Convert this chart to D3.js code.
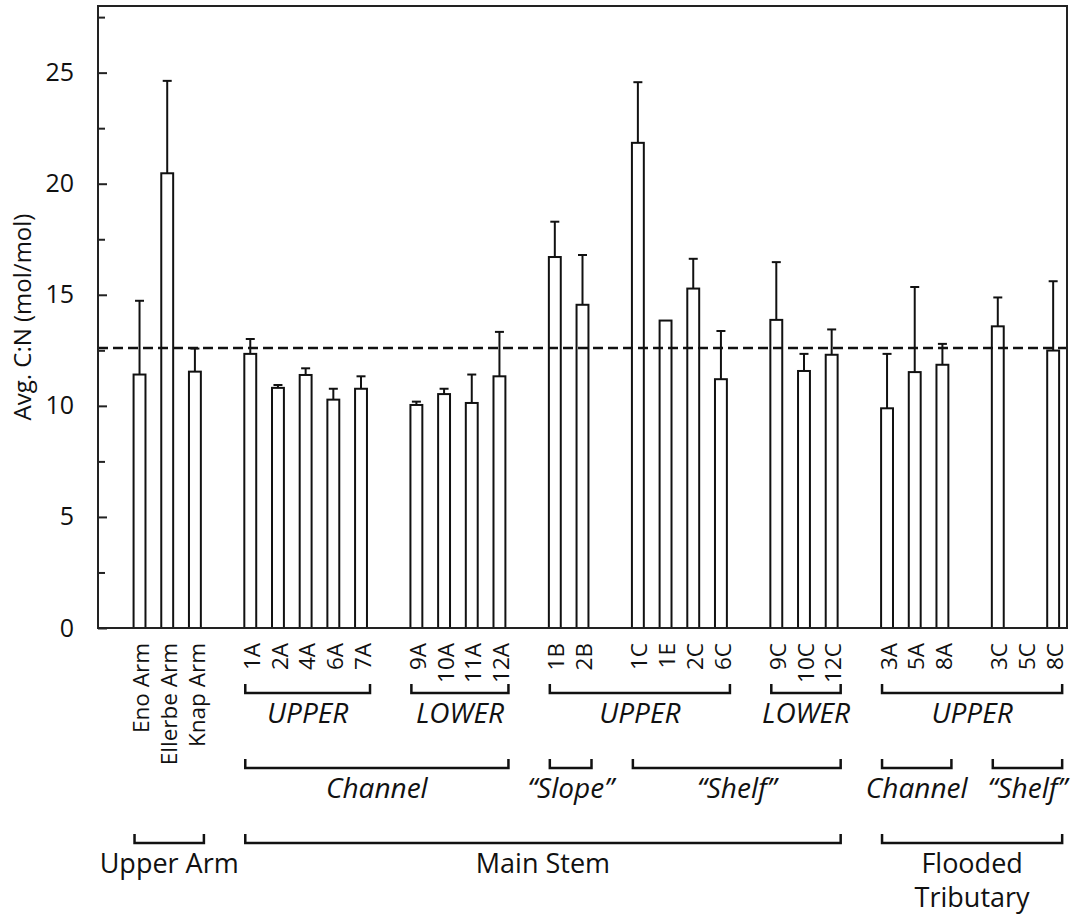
<!DOCTYPE html>
<html>
<head>
<meta charset="utf-8">
<script src="https://cdn.jsdelivr.net/npm/d3@7"></script>
<style>
  html, body { margin: 0; padding: 0; background: #fff; }
  svg { display: block; }
  text { font-family: "Open Sans", "DejaVu Sans", sans-serif; fill: #111; }
</style>
</head>
<body>
<svg id="chart" width="1084" height="915"></svg>
<script>
// ---------------- data ----------------
const categories = ["", "Eno Arm", "Ellerbe Arm", "Knap Arm", "",
  "1A", "2A", "4A", "6A", "7A", "",
  "9A", "10A", "11A", "12A", "",
  "1B", "2B", "",
  "1C", "1E", "2C", "6C", "",
  "9C", "10C", "12C", "",
  "3A", "5A", "8A", "",
  "3C", "5C", "8C"];
const values = [null, 11.41, 20.47, 11.54, null,
  12.34, 10.81, 11.39, 10.28, 10.77, null,
  10.04, 10.53, 10.13, 11.33, null,
  16.70, 14.55, null,
  21.84, 13.84, 15.28, 11.20, null,
  13.87, 11.57, 12.30, null,
  9.89, 11.52, 11.85, null,
  13.58, null, 12.49];
const errors = [null, 3.32, 4.16, 1.04, null,
  0.67, 0.13, 0.30, 0.49, 0.56, null,
  0.15, 0.24, 1.28, 2.00, null,
  1.59, 2.24, null,
  2.73, 0, 1.34, 2.17, null,
  2.60, 0.77, 1.14, null,
  2.45, 3.83, 0.94, null,
  1.30, null, 3.12];
const referenceValue = 12.6;
const yMajorTicks = [0, 5, 10, 15, 20, 25];
const yMinorTicks = [2.5, 7.5, 12.5, 17.5, 22.5, 27.5];
const yMax = 28;
const yLabel = "Avg. C:N (mol/mol)";

const groupsRow1 = [
  { label: "UPPER", from: "1A", to: "7A" },
  { label: "LOWER", from: "9A", to: "12A" },
  { label: "UPPER", from: "1B", to: "6C" },
  { label: "LOWER", from: "9C", to: "12C" },
  { label: "UPPER", from: "3A", to: "8C" }
];
const groupsRow2 = [
  { label: "Channel", from: "1A", to: "12A" },
  { label: "\u201CSlope\u201D", from: "1B", to: "2B" },
  { label: "\u201CShelf\u201D", from: "1C", to: "12C" },
  { label: "Channel", from: "3A", to: "8A" },
  { label: "\u201CShelf\u201D", from: "3C", to: "8C" }
];
const groupsRow3 = [
  { label: ["Upper Arm"], from: "Eno Arm", to: "Knap Arm" },
  { label: ["Main Stem"], from: "1A", to: "12C" },
  { label: ["Flooded", "Tributary"], from: "3A", to: "8C" }
];

// ---------------- layout ----------------
const plot = { left: 98, right: 1067, top: 6, bottom: 628 };
const svg = d3.select("#chart");
svg.append("rect").attr("width", 1084).attr("height", 915).attr("fill", "#fff");

const idx = d3.range(categories.length);
const x = d3.scaleBand().domain(idx).range([plot.left, plot.right])
  .paddingInner(0.57).paddingOuter(0.285);
const y = d3.scaleLinear().domain([0, yMax]).range([plot.bottom, plot.top]);
const cx = i => x(i) + x.bandwidth() / 2;

// axes (ticks inward)
const gMaj = svg.append("g").attr("transform", `translate(${plot.left},0)`)
  .call(d3.axisLeft(y).tickValues(yMajorTicks).tickSize(-9).tickPadding(24).tickFormat(d3.format("d")));
gMaj.select(".domain").remove();
gMaj.selectAll("line").attr("stroke", "#222").attr("stroke-width", 2);
gMaj.selectAll("text").attr("font-size", 25).style("font-family", "'Open Sans', sans-serif").attr("fill", "#111");

const gMin = svg.append("g").attr("transform", `translate(${plot.left},0)`)
  .call(d3.axisLeft(y).tickValues(yMinorTicks).tickSize(-7).tickFormat(""));
gMin.select(".domain").remove();
gMin.selectAll("line").attr("stroke", "#222").attr("stroke-width", 2);

// y label
svg.append("text")
  .attr("transform", `translate(31,${(plot.top + plot.bottom) / 2}) rotate(-90)`)
  .attr("text-anchor", "middle")
  .attr("font-size", 24)
  .text(yLabel);

// bars
const barData = idx.filter(i => values[i] != null);
svg.append("g").selectAll("rect").data(barData).join("rect")
  .attr("x", i => x(i))
  .attr("y", i => y(values[i]))
  .attr("width", x.bandwidth())
  .attr("height", i => y(0) - y(values[i]))
  .attr("fill", "#fff")
  .attr("stroke", "#111")
  .attr("stroke-width", 2);

// error bars (upper only)
const errData = barData.filter(i => errors[i] > 0);
const gErr = svg.append("g").attr("stroke", "#111").attr("stroke-width", 2);
gErr.selectAll("line.v").data(errData).join("line").attr("class", "v")
  .attr("x1", cx).attr("x2", cx)
  .attr("y1", i => y(values[i])).attr("y2", i => y(values[i] + errors[i]));
gErr.selectAll("line.c").data(errData).join("line").attr("class", "c")
  .attr("x1", i => cx(i) - 4.5).attr("x2", i => cx(i) + 4.5)
  .attr("y1", i => y(values[i] + errors[i])).attr("y2", i => y(values[i] + errors[i]));

// reference dashed line
svg.append("line")
  .attr("x1", plot.left).attr("x2", plot.right)
  .attr("y1", y(referenceValue)).attr("y2", y(referenceValue))
  .attr("stroke", "#111").attr("stroke-width", 2.5)
  .attr("stroke-dasharray", "10,5");

// frame
svg.append("rect")
  .attr("x", plot.left).attr("y", plot.top)
  .attr("width", plot.right - plot.left).attr("height", plot.bottom - plot.top)
  .attr("fill", "none").attr("stroke", "#222").attr("stroke-width", 2);

// category labels (rotated)
svg.append("g").selectAll("text").data(idx.filter(i => categories[i] !== "")).join("text")
  .attr("transform", i => `translate(${cx(i) + 1.5},${plot.bottom + 15}) rotate(-90)`)
  .attr("text-anchor", "end")
  .attr("dy", "0.36em")
  .attr("font-size", 22.5)
  .text(i => categories[i]);

// brackets
function drawRow(groups, lineY, tickH, textY, fontSize, italic, lineGap) {
  const g = svg.append("g");
  groups.forEach(gr => {
    const a = categories.indexOf(gr.from), b = categories.indexOf(gr.to);
    const x1 = cx(a) - 5, x2 = cx(b) + 9;
    g.append("path")
      .attr("d", `M${x1},${lineY - tickH}V${lineY}H${x2}V${lineY - tickH}`)
      .attr("fill", "none").attr("stroke", "#111").attr("stroke-width", 2.5);
    const lines = Array.isArray(gr.label) ? gr.label : [gr.label];
    const t = g.append("text")
      .attr("x", (x1 + x2) / 2).attr("y", textY)
      .attr("text-anchor", "middle")
      .attr("font-size", fontSize)
      .style("font-style", italic ? "italic" : "normal");
    lines.forEach((ln, k) => {
      t.append("tspan").attr("x", (x1 + x2) / 2).attr("y", textY + k * lineGap).text(ln);
    });
  });
}
drawRow(groupsRow1, 693, 9, 723, 28, true, 0);
drawRow(groupsRow2, 768, 9, 798, 28, true, 0);
drawRow(groupsRow3, 843, 9, 873, 27, false, 34);
</script>
</body>
</html>
